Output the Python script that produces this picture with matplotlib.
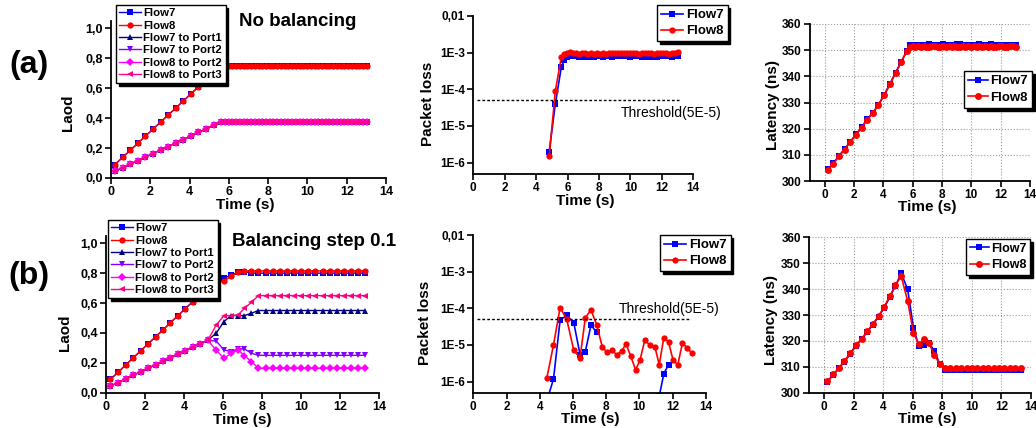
import numpy as np
import matplotlib
matplotlib.use('Agg')
import matplotlib.pyplot as plt
from matplotlib.ticker import NullLocator

plt.rcParams['font.family'] = ['Liberation Sans', 'DejaVu Sans']
plt.rcParams['font.weight'] = 'bold'
plt.rcParams['axes.labelweight'] = 'bold'

# ---------- row (a): no balancing ----------
t_a = [0.2, 0.59, 0.97, 1.36, 1.74, 2.13, 2.52, 2.9, 3.29, 3.67, 4.06, 4.45, 4.83, 5.22, 5.6,
       5.8, 5.99, 6.18, 6.37, 6.56, 6.75, 6.94, 7.13, 7.32, 7.51, 7.7, 7.89, 8.08,
       8.27, 8.46, 8.65, 8.84, 9.03, 9.22, 9.41, 9.6, 9.79, 9.98, 10.17, 10.36, 10.55,
       10.74, 10.93, 11.12, 11.31, 11.5, 11.69, 11.88, 12.07, 12.26, 12.45, 12.64, 12.83, 13.02]

load_a_flow = [0.09, 0.138, 0.184, 0.232, 0.279, 0.326, 0.374, 0.42, 0.467, 0.514, 0.562, 0.609, 0.656, 0.703, 0.75,
               0.75, 0.75, 0.75, 0.75, 0.75, 0.75, 0.75, 0.75, 0.75, 0.75, 0.75, 0.75, 0.75,
               0.75, 0.75, 0.75, 0.75, 0.75, 0.75, 0.75, 0.75, 0.75, 0.75, 0.75, 0.75, 0.75,
               0.75, 0.75, 0.75, 0.75, 0.75, 0.75, 0.75, 0.75, 0.75, 0.75, 0.75, 0.75, 0.75]
load_a_port = [0.045, 0.069, 0.092, 0.116, 0.139, 0.163, 0.187, 0.21, 0.234, 0.257, 0.281, 0.305, 0.328, 0.352, 0.375,
               0.375, 0.375, 0.375, 0.375, 0.375, 0.375, 0.375, 0.375, 0.375, 0.375, 0.375, 0.375, 0.375,
               0.375, 0.375, 0.375, 0.375, 0.375, 0.375, 0.375, 0.375, 0.375, 0.375, 0.375, 0.375, 0.375,
               0.375, 0.375, 0.375, 0.375, 0.375, 0.375, 0.375, 0.375, 0.375, 0.375, 0.375, 0.375, 0.375]

# packet loss is zero before t=4.8, so it starts at the 13th sample
loss_a_t = t_a[12:]
loss_a_flow7 = [2e-6, 4e-5, 4e-4,
                6.5e-4, 7.8e-4, 8.2e-4, 7.9e-4, 8.3e-4, 7.6e-4, 8.0e-4, 7.7e-4, 8.1e-4, 7.8e-4, 7.6e-4, 8.0e-4, 7.9e-4,
                7.5e-4, 7.9e-4, 8.1e-4, 7.7e-4, 8.0e-4, 8.2e-4, 7.9e-4, 8.3e-4, 8.0e-4, 7.8e-4, 8.1e-4, 7.9e-4, 8.2e-4,
                7.8e-4, 7.6e-4, 8.0e-4, 7.8e-4, 8.1e-4, 7.7e-4, 8.0e-4, 8.2e-4, 7.9e-4, 8.1e-4, 7.8e-4, 8.0e-4, 7.9e-4]
loss_a_flow8 = [1.5e-6, 9e-5, 7.5e-4,
                9.2e-4, 1.0e-3, 1.05e-3, 9.6e-4, 9.9e-4, 9.3e-4, 9.7e-4, 9.5e-4, 9.2e-4, 9.6e-4, 9.4e-4, 9.8e-4, 9.3e-4,
                9.6e-4, 9.0e-4, 9.5e-4, 9.8e-4, 9.6e-4, 1.0e-3, 9.7e-4, 9.5e-4, 9.9e-4, 1.0e-3, 9.6e-4, 9.8e-4, 9.4e-4,
                9.7e-4, 9.5e-4, 9.9e-4, 9.6e-4, 9.3e-4, 9.7e-4, 9.5e-4, 9.8e-4, 9.6e-4, 9.4e-4, 9.9e-4, 9.7e-4, 1.05e-3]

lat_a_flow7 = [304.5, 306.7, 309.6, 312.2, 315.0, 317.8, 320.6, 323.6, 326.1, 329.2, 333.0, 337.1, 341.4, 345.6, 349.7,
               351.9, 352.0, 351.9, 352.1, 352.0, 351.9, 352.1, 352.2, 352.0, 351.9, 352.1, 352.0, 352.2,
               352.1, 351.9, 352.0, 352.1, 352.3, 352.2, 352.0, 351.9, 352.1, 352.0, 351.9, 352.1, 352.2,
               352.0, 351.9, 352.1, 352.3, 352.1, 352.0, 351.9, 352.1, 352.0, 351.9, 352.1, 352.0, 351.9]
lat_a_flow8 = [304.3, 306.6, 309.4, 312.0, 314.8, 317.6, 320.4, 323.4, 326.0, 329.0, 332.8, 336.9, 341.2, 345.4, 349.6,
               351.3, 351.5, 351.4, 351.6, 351.3, 351.5, 351.4, 351.2, 351.5, 351.6, 351.4, 351.3, 351.5,
               351.4, 351.6, 351.3, 351.5, 351.4, 351.2, 351.5, 351.4, 351.6, 351.3, 351.5, 351.4, 351.5,
               351.3, 351.6, 351.4, 351.5, 351.3, 351.4, 351.6, 351.5, 351.3, 351.4, 351.5, 351.6, 351.4]

# ---------- row (b): balancing step 0.1 ----------
t_b = [0.23, 0.63, 1.0, 1.38, 1.77, 2.15, 2.54, 2.92, 3.29, 3.69, 4.06, 4.44, 4.83, 5.22, 5.65, 6.05, 6.41, 6.77, 7.1, 7.46, 7.82,
       8.19, 8.55, 8.92, 9.28, 9.65, 10.01, 10.38, 10.74, 11.11, 11.47, 11.84, 12.2, 12.57, 12.93, 13.3]

load_b_flow7 = [0.09, 0.138, 0.184, 0.232, 0.279, 0.326, 0.374, 0.42, 0.467, 0.515, 0.562, 0.608, 0.655, 0.702, 0.744, 0.765, 0.788, 0.805, 0.81, 0.80, 0.80,
                0.80, 0.80, 0.80, 0.80, 0.80, 0.80, 0.80, 0.80, 0.80, 0.80, 0.80, 0.80, 0.80, 0.80, 0.80]
load_b_flow8 = [0.09, 0.138, 0.184, 0.232, 0.279, 0.326, 0.374, 0.42, 0.467, 0.515, 0.562, 0.608, 0.655, 0.70, 0.74, 0.745, 0.78, 0.805, 0.815, 0.815, 0.815,
                0.815, 0.815, 0.815, 0.815, 0.815, 0.815, 0.815, 0.815, 0.815, 0.815, 0.815, 0.815, 0.815, 0.815, 0.815]
load_b_f7p1 = [0.045, 0.068, 0.092, 0.116, 0.14, 0.163, 0.187, 0.21, 0.234, 0.258, 0.281, 0.305, 0.328, 0.35, 0.398, 0.476, 0.516, 0.516, 0.516, 0.532, 0.55,
               0.55, 0.55, 0.55, 0.55, 0.55, 0.55, 0.55, 0.55, 0.55, 0.55, 0.55, 0.55, 0.55, 0.55, 0.55]
load_b_f7p2 = [0.045, 0.068, 0.092, 0.116, 0.14, 0.163, 0.187, 0.21, 0.234, 0.258, 0.281, 0.305, 0.328, 0.35, 0.346, 0.286, 0.275, 0.293, 0.293, 0.264, 0.25,
               0.25, 0.25, 0.25, 0.25, 0.25, 0.25, 0.25, 0.25, 0.25, 0.25, 0.25, 0.25, 0.25, 0.25, 0.25]
load_b_f8p2 = [0.045, 0.068, 0.092, 0.116, 0.14, 0.163, 0.187, 0.21, 0.234, 0.258, 0.281, 0.305, 0.328, 0.35, 0.286, 0.23, 0.264, 0.286, 0.248, 0.208, 0.163,
               0.163, 0.163, 0.163, 0.163, 0.163, 0.163, 0.163, 0.163, 0.163, 0.163, 0.163, 0.163, 0.163, 0.163, 0.163]
load_b_f8p3 = [0.045, 0.068, 0.092, 0.116, 0.14, 0.163, 0.187, 0.21, 0.234, 0.258, 0.281, 0.305, 0.328, 0.35, 0.453, 0.516, 0.516, 0.52, 0.565, 0.605, 0.65,
               0.65, 0.65, 0.65, 0.65, 0.65, 0.65, 0.65, 0.65, 0.65, 0.65, 0.65, 0.65, 0.65, 0.65, 0.65]

loss_b_t = [4.43, 4.83, 5.23, 5.63, 6.05, 6.43, 6.75, 7.09, 7.43, 7.77, 8.05, 8.35, 8.63, 8.93, 9.2,
            9.48, 9.78, 10.05, 10.34, 10.64, 10.94, 11.2, 11.48, 11.76, 12.04, 12.32, 12.6, 12.88, 13.18]
# nan = zero loss (not drawn on log axis)
loss_b_flow7 = [3e-7, 1.17e-6, 4.8e-5, 6.4e-5, 4.1e-5, 5.5e-6, 6.6e-6, 3.5e-5, 2.2e-5,
                np.nan, np.nan, np.nan, np.nan, np.nan, np.nan, np.nan, np.nan, np.nan, np.nan, np.nan, np.nan,
                4e-7, 1.66e-6, 2.9e-6, np.nan, np.nan, np.nan, np.nan, np.nan]
loss_b_flow8 = [1.26e-6, 1.0e-5, 1.05e-4, 5.0e-5, 7.2e-6, 4.5e-6, 5.6e-5, 9.0e-5, 3.6e-5, 8.9e-6, 6.4e-6, 7.1e-6, 5.5e-6, 6.7e-6, 1.07e-5,
                5.0e-6, 2.1e-6, 4.0e-6, 1.4e-5, 9.7e-6, 8.9e-6, 2.9e-6, 1.6e-5, 1.2e-5, 3.8e-6, 2.9e-6, 1.15e-5, 8.3e-6, 5.9e-6]

lat_b_flow7 = [304.3, 306.9, 309.4, 312.0, 315.0, 318.0, 320.6, 323.5, 326.2, 329.4, 332.8, 336.8, 341.3, 346.1, 340.0, 325.0, 318.0, 318.5, 319.1, 316.2, 311.1,
               308.9, 308.8, 308.9, 308.8, 308.9, 308.9, 308.8, 308.9, 308.8, 308.9, 308.8, 308.9, 308.9, 308.8, 308.9]
lat_b_flow8 = [304.5, 307.1, 309.6, 312.3, 315.2, 318.3, 320.8, 323.7, 326.4, 329.6, 333.1, 337.2, 341.6, 345.0, 335.5, 323.2, 318.7, 320.6, 319.1, 314.6, 311.1,
               309.7, 309.6, 309.7, 309.6, 309.6, 309.7, 309.6, 309.7, 309.6, 309.6, 309.7, 309.6, 309.7, 309.6, 309.6]

threshold = 5e-5
threshold_span = (0.25, 13.1)

load_ticks = [0.0, 0.2, 0.4, 0.6, 0.8, 1.0]
load_labels = ['0,0', '0,2', '0,4', '0,6', '0,8', '1,0']
loss_ticks = [1e-6, 1e-5, 1e-4, 1e-3, 1e-2]
loss_labels = ['1E-6', '1E-5', '1E-4', '1E-3', '0,01']
time_ticks = [0, 2, 4, 6, 8, 10, 12, 14]
lat_ticks = [300, 310, 320, 330, 340, 350, 360]

BLUE = '#0000FF'
RED = '#FF0000'
NAVY = '#000080'
VIOLET = '#8000FF'
MAGENTA = '#FF00FF'
PINK = '#FF0080'

W, H = 1036.0, 428.0


def px_axes(fig, x0, y_bottom, x1, y_top):
    # place axes from pixel coordinates of the reference
    return fig.add_axes([x0 / W, 1 - y_bottom / H, (x1 - x0) / W, (y_bottom - y_top) / H])


def style_axis(ax, labelsize=8.5):
    ax.spines['top'].set_visible(False)
    ax.spines['right'].set_visible(False)
    ax.spines['left'].set_linewidth(1.3)
    ax.spines['bottom'].set_linewidth(1.3)
    ax.tick_params(direction='out', length=4, width=1.2, labelsize=labelsize, pad=2)


def set_labels(ax, ylabel, xpos, ypos):
    ax.set_xlabel('Time (s)', fontsize=11, va='center')
    ax.xaxis.set_label_coords(*xpos)
    ax.set_ylabel(ylabel, fontsize=11, va='center')
    ax.yaxis.set_label_coords(*ypos)


def add_legend(fig, ax, x, y, fontsize, spacing, handlelength=1.9):
    leg = ax.legend(loc='upper left', bbox_to_anchor=(x / W, 1 - y / H), bbox_transform=fig.transFigure,
                    borderaxespad=0, frameon=True, fancybox=False, edgecolor='black', framealpha=1,
                    shadow={'color': 'black', 'alpha': 1}, numpoints=1, fontsize=fontsize,
                    handlelength=handlelength, handletextpad=0.2, labelspacing=spacing, borderpad=0.3)
    leg.get_frame().set_linewidth(1.0)
    return leg


def load_plot(fig, ax, t, series, legend_xy, label_pos):
    for values, color, marker, ms, name in series:
        ax.plot(t, values, color=color, marker=marker, ms=ms, mew=0, lw=1.0, label=name)
    ax.set_xlim(0, 14)
    ax.set_ylim(0, 1.05)
    ax.set_xticks(time_ticks)
    ax.set_yticks(load_ticks)
    ax.set_yticklabels(load_labels)
    style_axis(ax, 9)
    set_labels(ax, 'Laod', *label_pos)
    add_legend(fig, ax, legend_xy[0], legend_xy[1], 8.2, 0.2)


def loss_plot(fig, ax, t, flow7, flow8, text_xy, legend_xy, label_pos):
    ax.set_yscale('log')
    ax.plot(t, flow7, color=BLUE, marker='s', ms=4.5, mew=0, lw=1.2, label='Flow7')
    ax.plot(t, flow8, color=RED, marker='o', ms=4.5, mew=0, lw=1.2, label='Flow8')
    ax.hlines(threshold, threshold_span[0], threshold_span[1], colors='black', linestyles=(0, (2, 1.5)), lw=1.0)
    ax.text(text_xy[0], text_xy[1], 'Threshold(5E-5)', fontsize=10, fontweight='normal', va='center')
    ax.set_xlim(0, 14)
    ax.set_ylim(5e-7, 1e-2)
    ax.set_xticks(time_ticks)
    ax.set_yticks(loss_ticks)
    ax.set_yticklabels(loss_labels)
    ax.yaxis.set_minor_locator(NullLocator())
    style_axis(ax)
    set_labels(ax, 'Packet loss', *label_pos)
    add_legend(fig, ax, legend_xy[0], legend_xy[1], 9.5, 0.3, 1.7)


def latency_plot(fig, ax, t, flow7, flow8, legend_xy, fontsize, label_pos):
    ax.plot(t, flow7, color=BLUE, marker='s', ms=5, mew=0, lw=1.2, label='Flow7')
    ax.plot(t, flow8, color=RED, marker='o', ms=5, mew=0, lw=1.2, label='Flow8')
    ax.set_xlim(-1, 14)
    ax.set_ylim(300, 360)
    ax.set_xticks(time_ticks)
    ax.set_yticks(lat_ticks)
    ax.grid(True, ls=':', color='#999999', lw=0.8)
    ax.set_axisbelow(True)
    style_axis(ax)
    set_labels(ax, 'Latency (ns)', *label_pos)
    add_legend(fig, ax, legend_xy[0], legend_xy[1], fontsize, 0.35, 1.5)


def main():
    fig = plt.figure(figsize=(10.36, 4.28), dpi=100)

    ax1 = px_axes(fig, 111, 178, 386, 21)
    series_a = [(load_a_flow, BLUE, 's', 4.5, 'Flow7'),
                (load_a_flow, RED, 'o', 4.5, 'Flow8'),
                (load_a_port, NAVY, '^', 4.5, 'Flow7 to Port1'),
                (load_a_port, VIOLET, 'v', 4.5, 'Flow7 to Port2'),
                (load_a_port, MAGENTA, 'D', 3.8, 'Flow8 to Port2'),
                (load_a_port, PINK, '<', 4.5, 'Flow8 to Port3')]
    load_plot(fig, ax1, t_a, series_a, (116, 5), ((0.487, -0.175), (-0.156, 0.414)))

    ax2 = px_axes(fig, 473.3, 173.7, 693.3, 16)
    loss_plot(fig, ax2, loss_a_t, loss_a_flow7, loss_a_flow8, (9.4, 2.3e-5), (657, 5),
              ((0.508, -0.172), (-0.206, 0.442)))

    ax3 = px_axes(fig, 810, 181, 1030, 24)
    latency_plot(fig, ax3, t_a, lat_a_flow7, lat_a_flow8, (964, 71), 9.5,
                 ((0.532, -0.168), (-0.168, 0.484)))

    ax4 = px_axes(fig, 106, 392.7, 379, 235.8)
    series_b = [(load_b_flow7, BLUE, 's', 4.5, 'Flow7'),
                (load_b_flow8, RED, 'o', 4.5, 'Flow8'),
                (load_b_f7p1, NAVY, '^', 4.5, 'Flow7 to Port1'),
                (load_b_f7p2, VIOLET, 'v', 4.5, 'Flow7 to Port2'),
                (load_b_f8p2, MAGENTA, 'D', 3.8, 'Flow8 to Port2'),
                (load_b_f8p3, PINK, '<', 4.5, 'Flow8 to Port3')]
    load_plot(fig, ax4, t_b, series_b, (108, 220), ((0.498, -0.176), (-0.150, 0.38)))

    ax5 = px_axes(fig, 473.3, 392.7, 705.7, 235)
    loss_plot(fig, ax5, loss_b_t, loss_b_flow7, loss_b_flow8, (8.78, 9.4e-5), (660, 235),
              ((0.502, -0.168), (-0.208, 0.442)))

    ax6 = px_axes(fig, 809.3, 392.7, 1031, 237.3)
    latency_plot(fig, ax6, t_b, lat_b_flow7, lat_b_flow8, (966, 239), 9,
                 ((0.531, -0.17), (-0.173, 0.468)))

    fig.text(239 / W, 1 - 22 / H, 'No balancing', fontsize=13.5, va='center')
    fig.text(232 / W, 1 - 241 / H, 'Balancing step 0.1', fontsize=13.5, va='center')
    fig.text(29 / W, 1 - 65 / H, '(a)', fontsize=23, ha='center', va='center')
    fig.text(29 / W, 1 - 276 / H, '(b)', fontsize=23, ha='center', va='center')

    fig.savefig('out.png', dpi=100)


if __name__ == '__main__':
    main()
